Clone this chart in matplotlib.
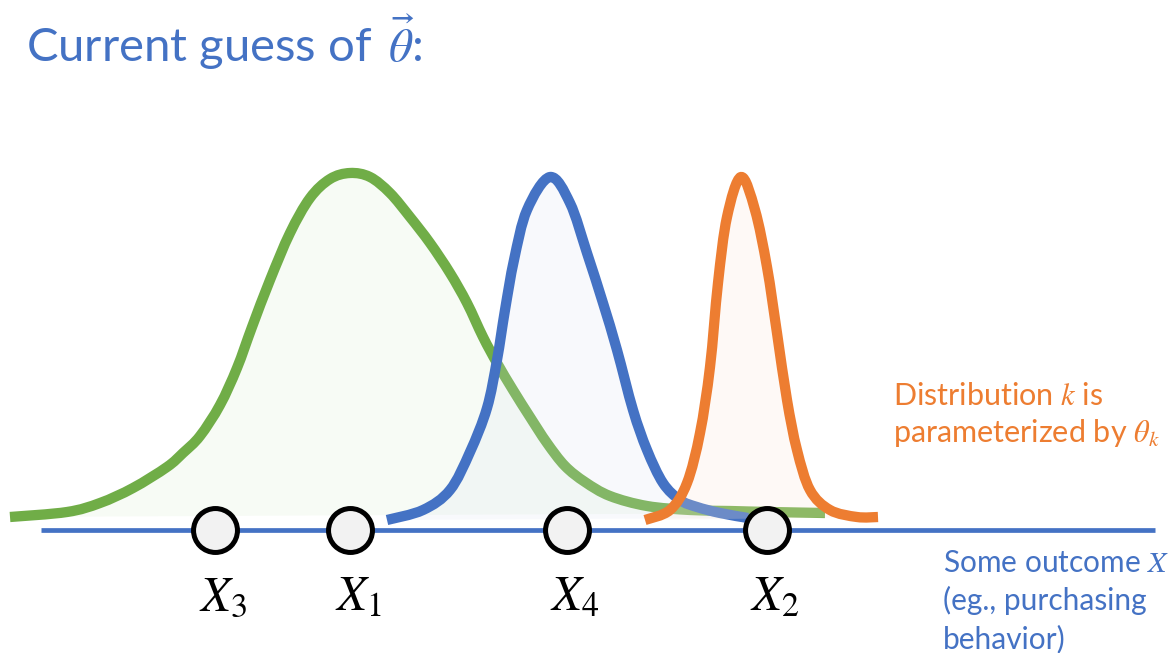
import numpy as np
import matplotlib.pyplot as plt
from matplotlib.path import Path
from matplotlib.patches import PathPatch

plt.rcParams['font.family'] = ['Lato', 'DejaVu Sans']
plt.rcParams['mathtext.fontset'] = 'stix'

BLUE = '#4472C4'
GREEN = '#70AD47'
ORANGE = '#ED7D31'

# traced outlines of the three distributions (pixel space, y grows downward)
green_x = [10, 67, 100, 133, 167, 183, 200, 220, 237, 252, 270, 290, 310, 330,
           350, 370, 390, 410, 430, 450, 467, 483, 497, 513, 530, 547, 565,
           585, 610, 647, 690, 730, 770, 825]
green_y = [517, 512, 503, 488, 467, 453, 436, 405, 368, 327, 280, 233, 198, 179,
           173, 177, 193, 217, 243, 273, 303, 337, 363, 390, 417, 443, 466,
           482, 496, 506, 510, 511, 512, 513]

blue_x = [387, 423, 450, 470, 487, 497, 505, 514, 527, 550, 570, 587, 603, 617,
          633, 647, 663, 680, 697, 720, 748]
blue_y = [520, 510, 490, 452, 408, 360, 310, 260, 210, 177, 203, 253, 303, 350,
          410, 450, 483, 500, 507, 513, 518]

orange_x = [645, 670, 687, 700, 710, 718, 727, 741, 755, 767, 777, 787, 797,
            810, 830, 857, 878]
orange_y = [520, 510, 483, 433, 367, 283, 217, 177, 210, 267, 333, 400, 450,
            490, 510, 517, 517]

# observed outcomes on the axis
point_x = [215, 350, 567, 767]
point_labels = [r'$X_3$', r'$X_1$', r'$X_4$', r'$X_2$']
axis_y = 530


def smooth_path(xs, ys, closed=False):
    # Catmull-Rom through the traced points, handed to matplotlib as cubic Beziers
    pts = np.column_stack([xs, ys]).astype(float)
    n = len(pts)
    verts = [pts[0]]
    codes = [Path.MOVETO]
    for i in range(n - 1):
        p0 = pts[max(i - 1, 0)]
        p1 = pts[i]
        p2 = pts[i + 1]
        p3 = pts[min(i + 2, n - 1)]
        verts += [p1 + (p2 - p0) / 6, p2 - (p3 - p1) / 6, p2]
        codes += [Path.CURVE4] * 3
    if closed:
        verts.append(pts[0])
        codes.append(Path.CLOSEPOLY)
    return Path(verts, codes)


fig = plt.figure(figsize=(11.73, 6.53), dpi=100)
ax = fig.add_axes([0, 0, 1, 1])
ax.set_xlim(0, 1173)
ax.set_ylim(653, 0)
ax.axis('off')

curves = [
    (green_x, green_y, GREEN, '#E2F0D9', 0.25),
    (blue_x, blue_y, BLUE, '#DAE3F3', 0.18),
    (orange_x, orange_y, ORANGE, '#FBE5D6', 0.22),
]
z = 1
for xs, ys, col, fillcol, a in curves:
    ax.add_patch(PathPatch(smooth_path(xs, ys, closed=True), facecolor=fillcol,
                           alpha=a, lw=0, zorder=z))
    ax.add_patch(PathPatch(smooth_path(xs, ys), fill=False, edgecolor=col,
                           lw=7.4, capstyle='butt', joinstyle='round',
                           zorder=z + 1))
    z += 2

# outcome axis
ax.plot([41, 1155], [axis_y, axis_y], color=BLUE, lw=3.4,
        solid_capstyle='butt', zorder=8)

ax.scatter(point_x, [axis_y] * len(point_x), s=1000, facecolor='#F2F2F2',
           edgecolor='black', linewidths=3.6, zorder=10)
for px, lab in zip(point_x, point_labels):
    ax.text(px + 8, 610, lab, fontsize=35, ha='center', va='baseline',
            color='black')

ax.text(26, 62, r'Current guess of $\,\vec{\theta}$:', fontsize=34,
        color=BLUE, ha='left', va='baseline')

orange_lines = [r'Distribution $k$ is', r'parameterized by $\theta_k$']
for i, line in enumerate(orange_lines):
    ax.text(893, 405 + 37 * i, line, fontsize=22, color=ORANGE,
            ha='left', va='baseline')

axis_lines = [r'Some outcome $X$', '(eg., purchasing', 'behavior)']
for i, line in enumerate(axis_lines):
    ax.text(943, 572 + 38 * i, line, fontsize=21.5, color=BLUE,
            ha='left', va='baseline')

fig.savefig('out.png', dpi=100)
